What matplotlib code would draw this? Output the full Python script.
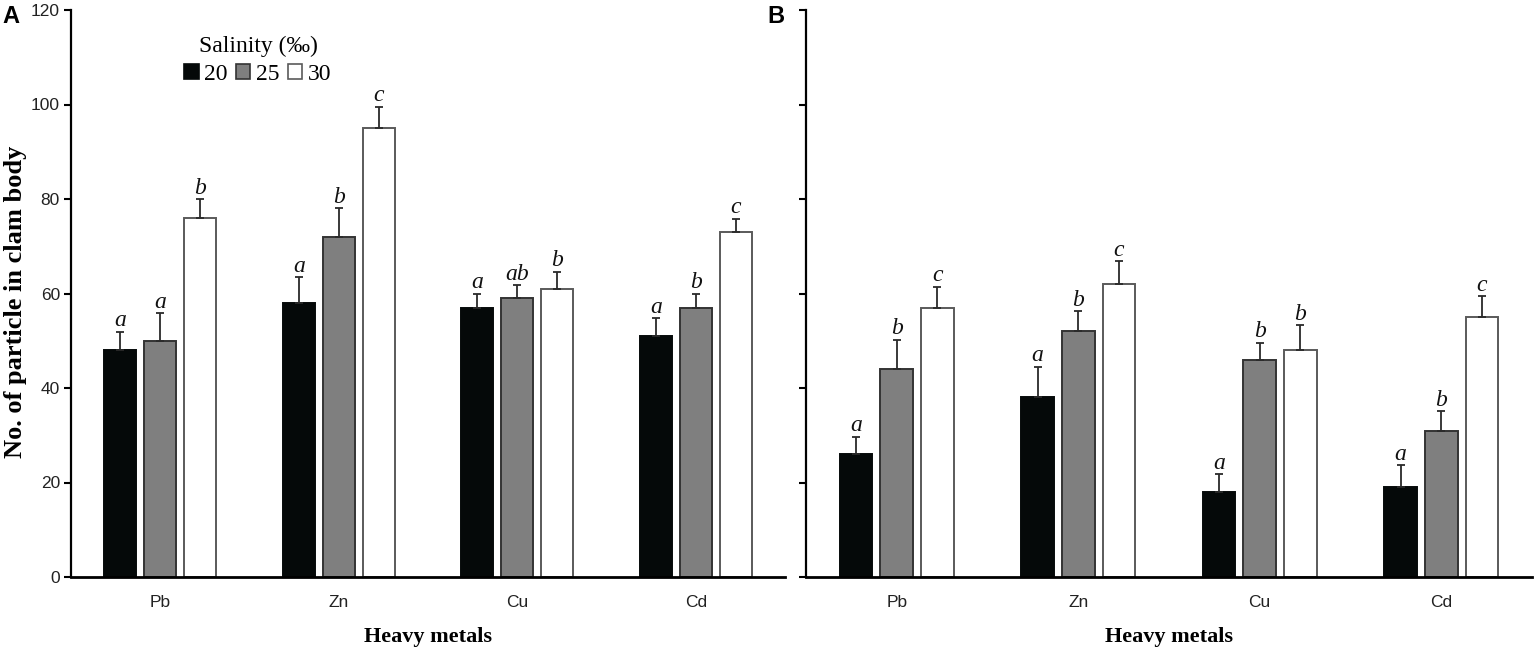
import matplotlib
matplotlib.use('Agg')
import matplotlib.pyplot as plt
import numpy as np
from matplotlib.patches import Patch

metals = ['Pb', 'Zn', 'Cu', 'Cd']
salinity_levels = ['20', '25', '30']

A_mean_20 = [48, 58, 57, 51]
A_mean_25 = [50, 72, 59, 57]
A_mean_30 = [76, 95, 61, 73]
A_se_20 = [3.9, 5.4, 3.0, 3.8]
A_se_25 = [5.8, 6.0, 2.7, 2.9]
A_se_30 = [3.9, 4.5, 3.6, 2.8]
A_let_20 = ['a', 'a', 'a', 'a']
A_let_25 = ['a', 'b', 'ab', 'b']
A_let_30 = ['b', 'c', 'b', 'c']

B_mean_20 = [26, 38, 18, 19]
B_mean_25 = [44, 52, 46, 31]
B_mean_30 = [57, 62, 48, 55]
B_se_20 = [3.7, 6.5, 3.7, 4.6]
B_se_25 = [6.2, 4.2, 3.6, 4.1]
B_se_30 = [4.4, 4.8, 5.3, 4.4]
B_let_20 = ['a', 'a', 'a', 'a']
B_let_25 = ['b', 'b', 'b', 'b']
B_let_30 = ['c', 'c', 'b', 'c']

y_ticks = [0, 20, 40, 60, 80, 100, 120]

SERIF = 'Liberation Serif'
SANS = 'Liberation Sans'

fills = ['#050909', '#7f7f7f', '#ffffff']
edges = ['#050909', '#333333', '#5a5a5a']
offsets = [-0.224, 0.0, 0.224]
bar_w = 0.18

fig = plt.figure(figsize=(15.35, 6.53), dpi=100)
axA = fig.add_axes([71/1535, 76/653, 714/1535, 567/653])
axB = fig.add_axes([806/1535, 76/653, 726/1535, 567/653])

def draw(ax, means, ses, lets, show_ylabels):
    x = np.arange(len(metals))
    for i in range(3):
        xs = x + offsets[i]
        ax.bar(xs, means[i], width=bar_w, color=fills[i], edgecolor=edges[i],
               linewidth=1.4, zorder=2)
        ax.errorbar(xs, means[i], yerr=[np.zeros(len(metals)), ses[i]], fmt='none',
                    ecolor='#2a2a2a', elinewidth=1.3, capsize=2.6, capthick=1.3, zorder=3)
        for xi, m, s, l in zip(xs, means[i], ses[i], lets[i]):
            ax.annotate(l, (xi, m + s), xytext=(0, 4), textcoords='offset points',
                        ha='center', va='baseline', fontsize=17, style='italic',
                        family=SERIF, color='#111111')
    ax.set_xlim(-0.5, 3.5)
    ax.set_ylim(0, 120)
    ax.set_xticks(x)
    ax.set_xticklabels(metals, family=SANS, fontsize=12.5, color='#222222')
    ax.set_yticks(y_ticks)
    if show_ylabels:
        ax.set_yticklabels([str(t) for t in y_ticks], family=SANS, fontsize=12.5, color='#222222')
    else:
        ax.set_yticklabels([])
    ax.tick_params(axis='x', length=0, pad=13)
    ax.tick_params(axis='y', length=5, width=1.5, pad=3, direction='out')
    for s in ['top', 'right']:
        ax.spines[s].set_visible(False)
    ax.spines['left'].set_linewidth(1.6)
    ax.spines['bottom'].set_linewidth(2.0)
    ax.set_xlabel('Heavy metals', family=SERIF, fontsize=16, fontweight='bold', labelpad=12)

draw(axA, [A_mean_20, A_mean_25, A_mean_30], [A_se_20, A_se_25, A_se_30],
     [A_let_20, A_let_25, A_let_30], True)
draw(axB, [B_mean_20, B_mean_25, B_mean_30], [B_se_20, B_se_25, B_se_30],
     [B_let_20, B_let_25, B_let_30], False)

axA.set_ylabel('No. of particle in clam body', family=SERIF, fontsize=19, fontweight='bold')
axA.yaxis.set_label_coords(-0.061, 0.485)

handles = [Patch(facecolor=fills[i], edgecolor=edges[i], linewidth=1.2) for i in range(3)]
leg = axA.legend(handles, salinity_levels, title='Salinity (‰)', ncol=3, frameon=False,
                 loc='upper center', bbox_to_anchor=(258/1535, 1 - 24/653),
                 bbox_transform=fig.transFigure,
                 prop={'family': SERIF, 'size': 17},
                 title_fontproperties={'family': SERIF, 'size': 17},
                 handlelength=0.6, handleheight=0.6, handletextpad=0.25,
                 columnspacing=0.35, borderpad=0, labelspacing=0.3)

fig.text(2/1535, 1 - 5/653, 'A', family=SANS, fontweight='bold', fontsize=17, va='top', ha='left')
fig.text(767/1535, 1 - 5/653, 'B', family=SANS, fontweight='bold', fontsize=17, va='top', ha='left')

fig.savefig('out.png', dpi=100)
